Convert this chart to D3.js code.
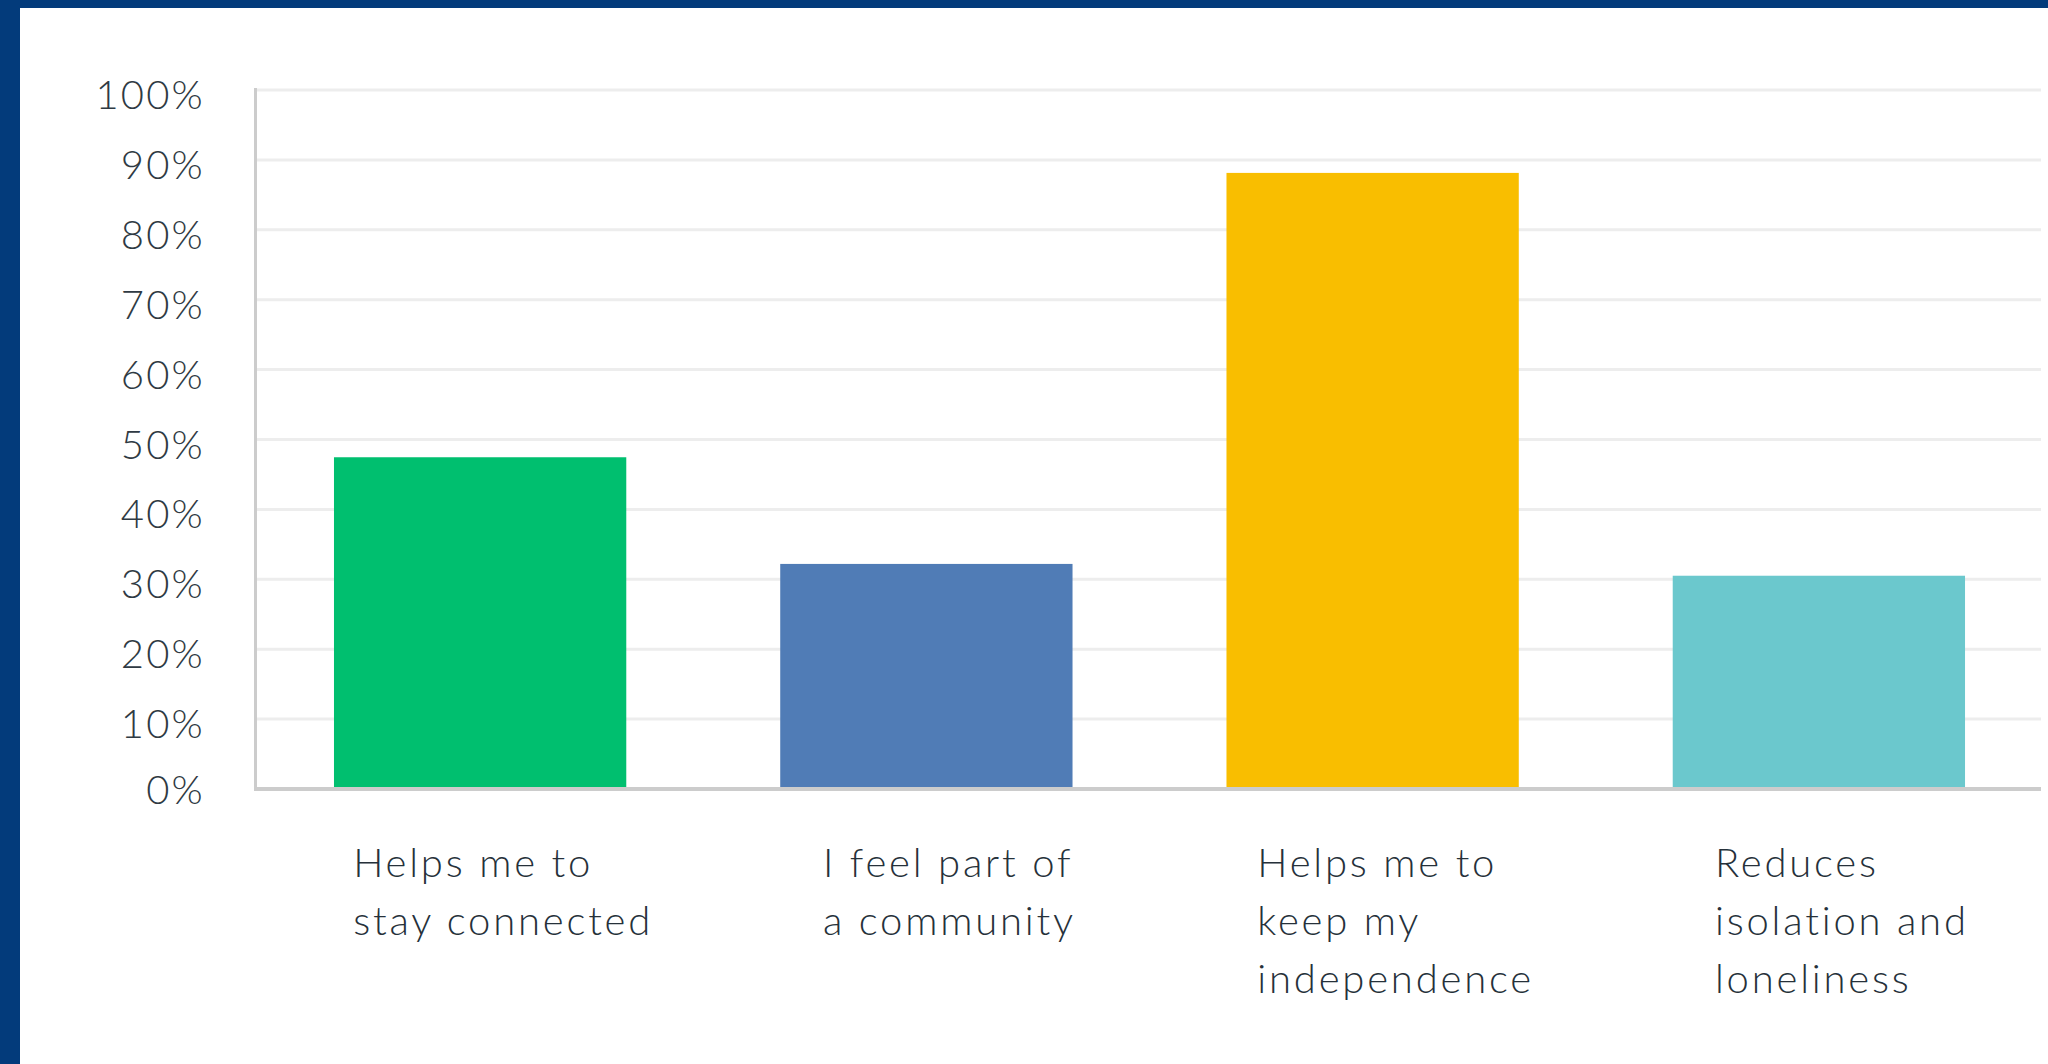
<!DOCTYPE html>
<html>
<head>
<meta charset="utf-8">
<script src="https://cdn.jsdelivr.net/npm/d3@7"></script>
<style>
  html, body { margin: 0; padding: 0; background: #fff; }
  #chart { width: 2048px; height: 1064px; }
  .tick-label { font-family: Lato, sans-serif; font-weight: 300; font-size: 40px; fill: #2f3a43; letter-spacing: 2.2px; }
  .cat-label { font-family: Lato, sans-serif; font-weight: 300; font-size: 40px; fill: #26313a; letter-spacing: 2.8px; }
</style>
</head>
<body>
<div id="chart"></div>
<script>
// respostas da pesquisa (% de respondentes)
const categorias = [
  ['Helps me to', 'stay connected'],
  ['I feel part of', 'a community'],
  ['Helps me to', 'keep my', 'independence'],
  ['Reduces', 'isolation and', 'loneliness'],
];
const valores = [47.46, 32.2, 88.14, 30.51];
const cores = ['#00bf6f', '#507cb6', '#f9be00', '#6bc8cd'];
const ticks = [0, 10, 20, 30, 40, 50, 60, 70, 80, 90, 100];

const W = 2048, H = 1064;
const svg = d3.select('#chart').append('svg').attr('width', W).attr('height', H);

// moldura azul (topo + esquerda)
svg.append('rect').attr('x', 0).attr('y', 0).attr('width', W).attr('height', 8).attr('fill', '#033b7b');
svg.append('rect').attr('x', 0).attr('y', 0).attr('width', 20).attr('height', H).attr('fill', '#033b7b');

const mLeft = 257, mRight = 2042, mTop = 90, mBottom = 789;

const x = d3.scaleBand()
  .domain(d3.range(valores.length))
  .range([mLeft, mRight])
  .paddingInner(0.345)
  .paddingOuter(0.1725);

const y = d3.scaleLinear().domain([0, 100]).range([mBottom, mTop]);

// grade horizontal
svg.append('g').selectAll('line')
  .data(ticks.filter((t) => t > 0))
  .join('line')
  .attr('x1', mLeft).attr('x2', 2041)
  .attr('y1', (d) => y(d)).attr('y2', (d) => y(d))
  .attr('stroke', '#ededed').attr('stroke-width', 3);

// rótulos do eixo y
svg.append('g').selectAll('text')
  .data(ticks)
  .join('text')
  .attr('class', 'tick-label')
  .attr('x', 205)
  .attr('y', (d) => y(d) + (d === 0 ? 1 : 5))
  .attr('dy', '0.35em')
  .attr('text-anchor', 'end')
  .text((d) => `${d}%`);

// barras
svg.append('g').selectAll('rect')
  .data(valores)
  .join('rect')
  .attr('x', (d, i) => x(i))
  .attr('y', (d) => y(d))
  .attr('width', x.bandwidth())
  .attr('height', (d) => y(0) - y(d))
  .attr('fill', (d, i) => cores[i]);

// eixos: linha vertical e base
svg.append('line')
  .attr('x1', 255.5).attr('x2', 255.5).attr('y1', mTop - 2).attr('y2', mBottom + 2)
  .attr('stroke', '#cccccc').attr('stroke-width', 3);
svg.append('line')
  .attr('x1', 254).attr('x2', 2041).attr('y1', mBottom).attr('y2', mBottom)
  .attr('stroke', '#cccccc').attr('stroke-width', 4);

// rótulos das categorias: bloco centrado sob a barra, texto alinhado à esquerda
const grupos = svg.append('g').selectAll('text')
  .data(categorias)
  .join('text')
  .attr('class', 'cat-label');
grupos.selectAll('tspan')
  .data((d) => d)
  .join('tspan')
  .attr('y', (d, i) => 877 + i * 58)
  .text((d) => d);
grupos.each(function (d, i) {
  const spans = d3.select(this).selectAll('tspan').nodes();
  const maxW = d3.max(spans, (s) => s.getComputedTextLength());
  const x0 = x(i) + x.bandwidth() / 2 - maxW / 2 + 23;
  d3.select(this).selectAll('tspan').attr('x', x0);
});
</script>
</body>
</html>
